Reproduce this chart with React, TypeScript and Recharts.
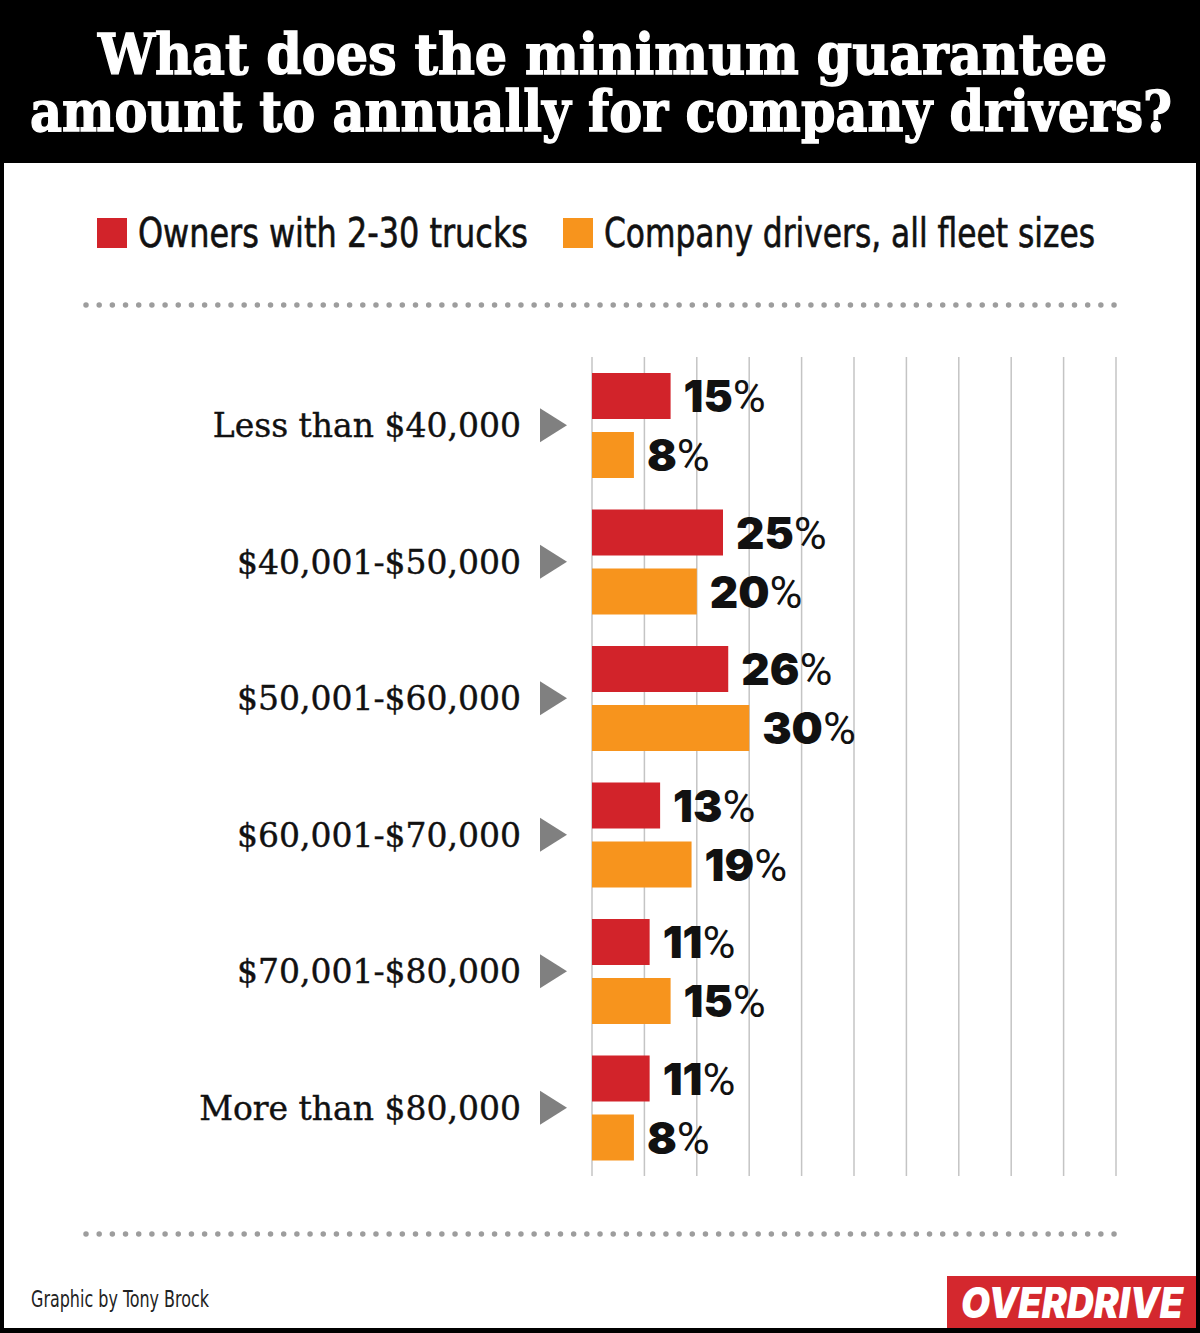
import React from 'react';
import { BarChart, Bar, XAxis, YAxis, CartesianGrid, LabelList } from 'recharts';

const CATEGORIES = [
  'Less than $40,000',
  '$40,001-$50,000',
  '$50,001-$60,000',
  '$60,001-$70,000',
  '$70,001-$80,000',
  'More than $80,000',
];
const OWNERS = [15, 25, 26, 13, 11, 11];
const COMPANY = [8, 20, 30, 19, 15, 8];
const X_TICKS = [0, 10, 20, 30, 40, 50, 60, 70, 80, 90, 100];

const SERIES = [
  { key: 'owners', name: 'Owners with 2-30 trucks', color: '#d2232a', values: OWNERS },
  { key: 'company', name: 'Company drivers, all fleet sizes', color: '#f7941d', values: COMPANY },
];

const TITLE = ['What does the minimum guarantee', 'amount to annually for company drivers?'];
const CREDIT = 'Graphic by Tony Brock';
const BRAND = 'OVERDRIVE';

const W = 1200;
const H = 1333;

const data = CATEGORIES.map((cat, i) => {
  const row: Record<string, string | number> = { cat };
  SERIES.forEach(s => {
    row[s.key] = s.values[i];
  });
  return row;
});

// category label, right aligned, followed by a grey pointer
function CategoryTick(props: any) {
  const { y, payload } = props;
  return (
    <g>
      <text
        x={521}
        y={y + 12}
        textAnchor="end"
        fontFamily="'DejaVu Serif', serif"
        fontSize={33}
        fill="#111"
        stroke="#111"
        strokeWidth={0.4}
      >
        {payload.value}
      </text>
      <polygon points={`540,${y - 17} 567,${y} 540,${y + 17}`} fill="#808080" />
    </g>
  );
}

function ValueLabel(props: any) {
  const { x, y, width, height, value } = props;
  return (
    <text x={x + width + 13} y={y + height / 2 + 16} fill="#111">
      <tspan fontFamily="Inter, sans-serif" fontWeight={900} fontSize={44}>
        {value}
      </tspan>
      <tspan fontFamily="Roboto, sans-serif" fontWeight={400} fontSize={45}>
        %
      </tspan>
    </text>
  );
}

function DotRule({ y }: { y: number }) {
  return (
    <line
      x1={86}
      x2={1115}
      y1={y}
      y2={y}
      stroke="#9d9d9d"
      strokeWidth={5.5}
      strokeLinecap="round"
      strokeDasharray="0 13.18"
    />
  );
}

export default function App() {
  return (
    <div style={{ position: 'absolute', left: 0, top: 0, width: W, height: H, background: '#000' }}>
      <div style={{ position: 'absolute', left: 4, top: 163, width: W - 8, height: H - 168, background: '#fff' }} />

      <div style={{ position: 'absolute', left: 0, top: 0 }}>
        <BarChart
          width={W}
          height={H}
          data={data}
          layout="vertical"
          margin={{ top: 357, right: 84, bottom: 157, left: 0 }}
          barSize={46}
          barGap={13}
        >
          <CartesianGrid horizontal={false} stroke="#c4c4c4" strokeWidth={1.5} />
          <XAxis type="number" domain={[0, 100]} ticks={X_TICKS} hide />
          <YAxis
            type="category"
            dataKey="cat"
            width={592}
            axisLine={false}
            tickLine={false}
            tick={<CategoryTick />}
          />
          {SERIES.map(s => (
            <Bar key={s.key} dataKey={s.key} name={s.name} fill={s.color} isAnimationActive={false}>
              <LabelList dataKey={s.key} content={<ValueLabel />} />
            </Bar>
          ))}
        </BarChart>
      </div>

      <svg
        width={W}
        height={H}
        style={{ position: 'absolute', left: 0, top: 0, pointerEvents: 'none' }}
      >
        {/* header */}
        <g
          fill="#fff"
          stroke="#fff"
          strokeWidth={1.4}
          fontFamily="'DejaVu Serif', serif"
          fontWeight={700}
          fontSize={56}
        >
          <text x={98} y={74} textLength={1009} lengthAdjust="spacingAndGlyphs">
            {TITLE[0]}
          </text>
          <text x={30} y={131} textLength={1142} lengthAdjust="spacingAndGlyphs">
            {TITLE[1]}
          </text>
        </g>

        {/* legend */}
        <g
          fontFamily="'DejaVu Sans Condensed', 'DejaVu Sans', sans-serif"
          fontSize={40}
          fill="#111"
          stroke="#111"
          strokeWidth={0.6}
        >
          <rect x={97} y={218} width={30} height={30} fill={SERIES[0].color} stroke="none" />
          <text x={138} y={247} textLength={390} lengthAdjust="spacingAndGlyphs">
            {SERIES[0].name}
          </text>
          <rect x={563} y={218} width={30} height={30} fill={SERIES[1].color} stroke="none" />
          <text x={604} y={247} textLength={491} lengthAdjust="spacingAndGlyphs">
            {SERIES[1].name}
          </text>
        </g>

        <DotRule y={305} />
        <DotRule y={1234} />

        {/* footer */}
        <text
          x={31}
          y={1307}
          fontFamily="'DejaVu Sans Condensed', 'DejaVu Sans', sans-serif"
          fontSize={23}
          fill="#222"
          textLength={178}
          lengthAdjust="spacingAndGlyphs"
        >
          {CREDIT}
        </text>
        <rect x={947} y={1276} width={249} height={52} fill="#d4282e" />
        <text
          x={961}
          y={1318}
          fontFamily="Inter, sans-serif"
          fontWeight={900}
          fontStyle="italic"
          fontSize={42}
          fill="#fff"
          textLength={222}
          lengthAdjust="spacingAndGlyphs"
        >
          {BRAND}
        </text>
      </svg>
    </div>
  );
}
